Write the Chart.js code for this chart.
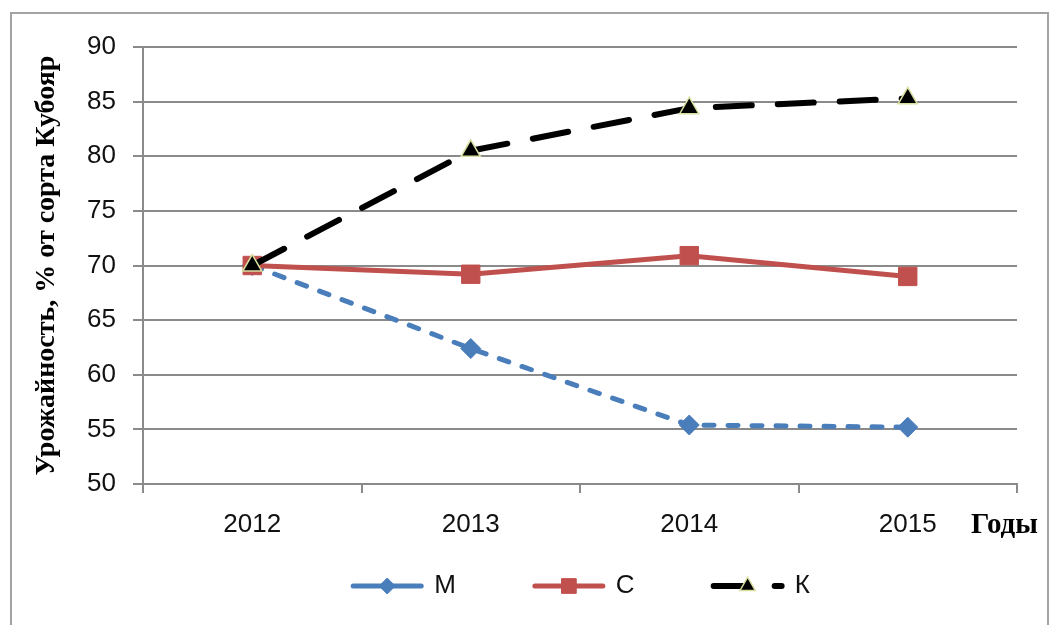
<!DOCTYPE html>
<html>
<head>
<meta charset="utf-8">
<script src="https://cdn.jsdelivr.net/npm/chart.js@4/dist/chart.umd.min.js"></script>
<style>
  html, body { margin: 0; padding: 0; background: #fff; }
  canvas { display: block; }
</style>
</head>
<body>
<canvas id="chart" width="1050" height="625"></canvas>
<script>
// Years on the category axis
const years = ['2012', '2013', '2014', '2015'];

// Yield, % of the Kuboyar variety
const seriesM = [70.0, 62.4, 55.4, 55.2];
const seriesC = [70.0, 69.2, 70.9, 69.0];
const seriesK = [70.0, 80.5, 84.4, 85.3];

const seriesNames = ['М', 'С', 'К'];

// Value axis range and step
const yMin = 50;
const yMax = 90;
const yStep = 5;

const yTitle = 'Урожайность, % от сорта Кубояр';
const xTitle = 'Годы';

const tickFont = { family: 'Liberation Sans', size: 26 };
const tickColor = '#111';
const gridColor = '#8a8a8a';

// Outer frame around the whole figure
const framePlugin = {
  id: 'frame',
  beforeDraw(chart) {
    const ctx = chart.ctx;
    ctx.save();
    ctx.fillStyle = '#fff';
    ctx.fillRect(0, 0, chart.width, chart.height);
    ctx.strokeStyle = '#a3a3a3';
    ctx.lineWidth = 2;
    ctx.strokeRect(11, 13, 1037, 640);
    ctx.restore();
  }
};

// "Годы" caption to the right of the last year label
const xTitlePlugin = {
  id: 'xTitle',
  afterDraw(chart) {
    const ctx = chart.ctx;
    ctx.save();
    ctx.font = 'bold 29px "Liberation Serif"';
    ctx.fillStyle = '#000';
    ctx.textAlign = 'left';
    ctx.textBaseline = 'middle';
    ctx.fillText(xTitle, chart.chartArea.right - 46, 526);
    ctx.restore();
  }
};

// Bottom legend: line sample with the marker in it, then the name
const legendPlugin = {
  id: 'lineLegend',
  afterDraw(chart) {
    const ctx = chart.ctx;
    const y = 586;
    const sampleW = 74;
    const gap = 10;
    const spacing = 76;
    ctx.save();
    ctx.font = tickFont.size + 'px "' + tickFont.family + '"';
    const items = chart.data.datasets.map(ds => ({ ds, w: ctx.measureText(ds.label).width }));
    const total = items.reduce((s, it) => s + sampleW + gap + it.w, 0) + spacing * (items.length - 1);
    let x = (chart.chartArea.left + chart.chartArea.right) / 2 - total / 2;
    items.forEach(it => {
      const ds = it.ds;
      ctx.save();
      ctx.strokeStyle = ds.borderColor;
      ctx.lineWidth = ds.borderWidth;
      ctx.lineCap = 'round';
      ctx.setLineDash(ds.legendDash || []);
      ctx.beginPath();
      ctx.moveTo(x + 3, y);
      ctx.lineTo(x + sampleW - 3, y);
      ctx.stroke();
      ctx.restore();
      const px = x + sampleW / 2;
      ctx.save();
      ctx.fillStyle = ds.pointBackgroundColor;
      ctx.strokeStyle = ds.pointBorderColor;
      ctx.lineWidth = ds.pointBorderWidth;
      Chart.helpers.drawPoint(ctx, {
        pointStyle: ds.pointStyle,
        radius: ds.pointRadius * 0.8,
        borderWidth: ds.pointBorderWidth
      }, px, y);
      ctx.restore();
      x += sampleW + gap;
      ctx.fillStyle = tickColor;
      ctx.textAlign = 'left';
      ctx.textBaseline = 'middle';
      ctx.fillText(ds.label, x, y);
      x += it.w + spacing;
    });
    ctx.restore();
  }
};

new Chart(document.getElementById('chart'), {
  type: 'line',
  data: {
    labels: years,
    datasets: [
      {
        label: seriesNames[0],
        data: seriesM,
        order: 3,
        borderColor: '#4a7ebb',
        borderWidth: 5,
        borderDash: [10, 14],
        borderCapStyle: 'round',
        pointStyle: 'rectRot',
        pointRadius: 10,
        pointBackgroundColor: '#4a7ebb',
        pointBorderColor: '#4a7ebb',
        pointBorderWidth: 1,
        legendDash: [],
        tension: 0
      },
      {
        label: seriesNames[1],
        data: seriesC,
        order: 2,
        borderColor: '#c0504d',
        borderWidth: 5,
        pointStyle: 'rect',
        pointRadius: 13,
        pointBackgroundColor: '#c0504d',
        pointBorderColor: '#c0504d',
        pointBorderWidth: 1,
        legendDash: [],
        tension: 0
      },
      {
        label: seriesNames[2],
        data: seriesK,
        order: 1,
        borderColor: '#000000',
        borderWidth: 6,
        borderDash: [36, 26],
        borderCapStyle: 'round',
        pointStyle: 'triangle',
        pointRadius: 11,
        pointBackgroundColor: '#000000',
        pointBorderColor: '#d9dfa0',
        pointBorderWidth: 1.5,
        legendDash: [32, 29],
        tension: 0
      }
    ]
  },
  options: {
    responsive: false,
    animation: false,
    events: [],
    layout: { padding: { left: 0, right: 33, top: 47, bottom: 0 } },
    plugins: {
      legend: { display: false },
      tooltip: { enabled: false }
    },
    scales: {
      x: {
        offset: true,
        grid: {
          offset: true,
          drawOnChartArea: false,
          drawTicks: true,
          tickLength: 9,
          color: gridColor,
          lineWidth: 2
        },
        border: { color: gridColor, width: 2 },
        ticks: { font: tickFont, color: tickColor, padding: 16 },
        afterFit(scale) { scale.height = 141; }
      },
      y: {
        min: yMin,
        max: yMax,
        grid: { color: gridColor, lineWidth: 2, tickLength: 10 },
        border: { color: gridColor, width: 2 },
        ticks: { stepSize: yStep, font: tickFont, color: tickColor, padding: 17 },
        title: {
          display: true,
          text: yTitle,
          color: '#000',
          font: { family: 'Liberation Serif', weight: 'bold', size: 28 },
          padding: { top: 30, bottom: 0 }
        },
        afterFit(scale) { scale.width = 143; }
      }
    }
  },
  plugins: [framePlugin, xTitlePlugin, legendPlugin]
});
</script>
</body>
</html>
